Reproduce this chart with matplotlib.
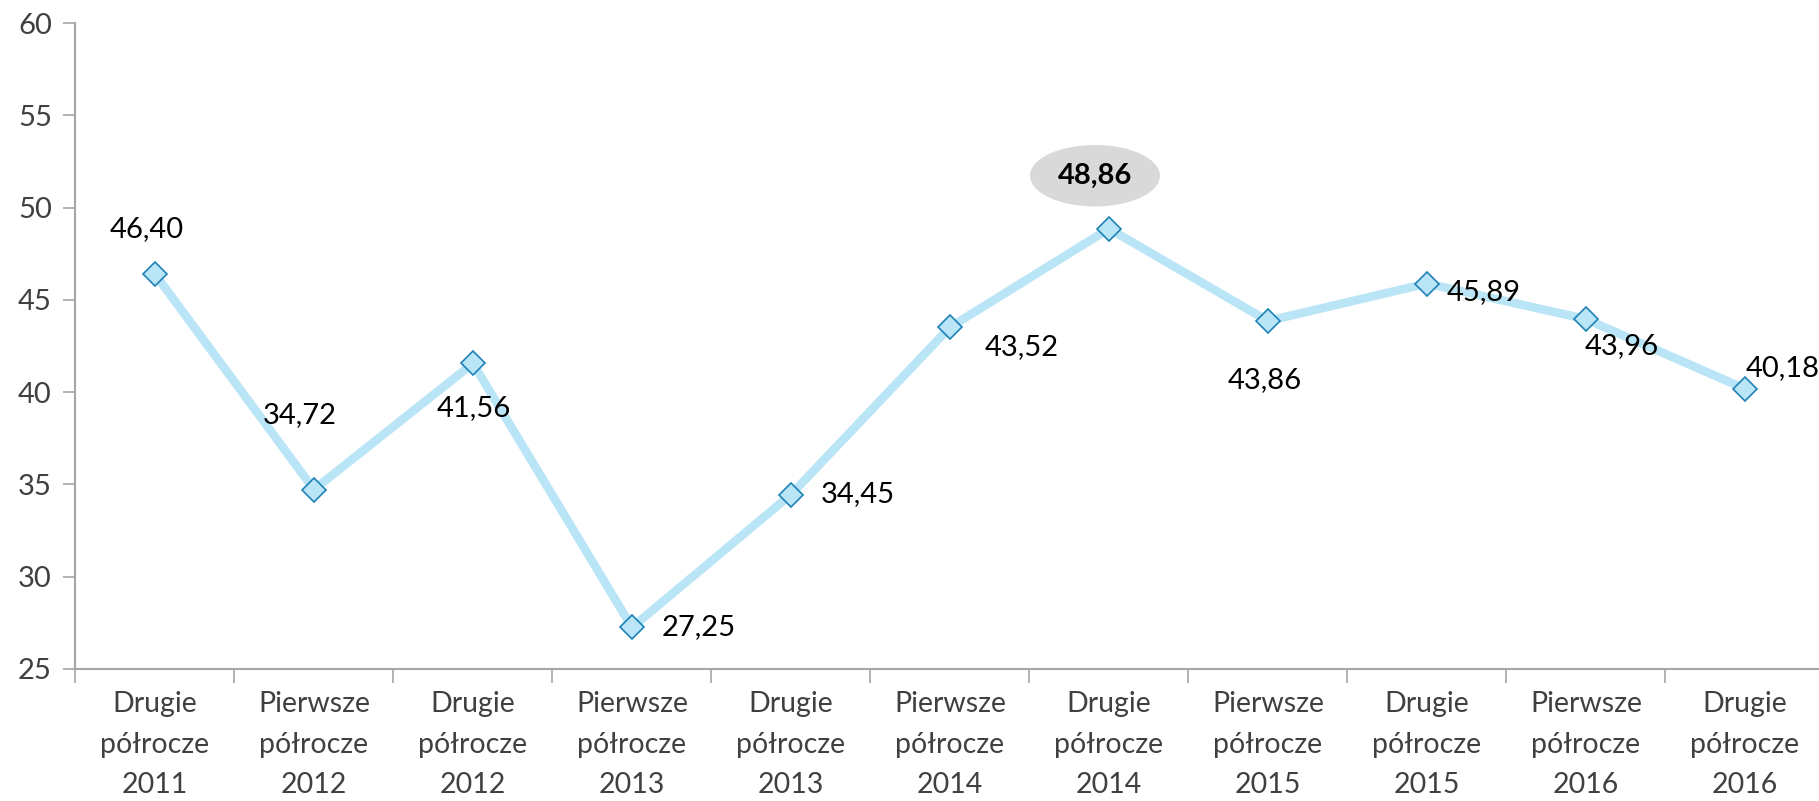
import matplotlib
matplotlib.use("Agg")
from matplotlib import pyplot as plt

# data
categories = ["Drugie\npółrocze\n2011", "Pierwsze\npółrocze\n2012", "Drugie\npółrocze\n2012",
              "Pierwsze\npółrocze\n2013", "Drugie\npółrocze\n2013", "Pierwsze\npółrocze\n2014",
              "Drugie\npółrocze\n2014", "Pierwsze\npółrocze\n2015", "Drugie\npółrocze\n2015",
              "Pierwsze\npółrocze\n2016", "Drugie\npółrocze\n2016"]
values = [46.40, 34.72, 41.56, 27.25, 34.45, 43.52, 48.86, 43.86, 45.89, 43.96, 40.18]
labels = ["46,40", "34,72", "41,56", "27,25", "34,45", "43,52", "48,86", "43,86", "45,89", "43,96", "40,18"]
highlight = 6
y_ticks = [25, 30, 35, 40, 45, 50, 55, 60]

# label offsets in pixels (dx, dy), dy positive = up
offsets = [(-8, 45), (-14, 74), (1, -45), (67, 0), (67, 0), (72, -20),
           (-14, 53), (-3, -59), (57, -9), (36, -27), (38, 21)]

plt.rcParams['font.family'] = ['Lato', 'DejaVu Sans']

fig = plt.figure(figsize=(18.19, 8.01), dpi=100)
ax = fig.add_axes([0.0415, 0.165, 1.003 - 0.0415, 0.971 - 0.165])

x = list(range(len(values)))
ax.plot(x, values, color="#B9E5F7", lw=6.2, solid_joinstyle="miter", zorder=2)
ax.plot(x, values, ls="none", marker="D", ms=12.5, mfc="#B9E5F7", mec="#1D82B5", mew=1.2, zorder=3)

for i, (v, lab) in enumerate(zip(values, labels)):
    dx, dy = offsets[i]
    if i == highlight:
        ax.annotate(lab, (i, v), xytext=(dx, dy), textcoords="offset pixels",
                    ha="center", va="center", fontsize=21, fontweight="bold", color="black",
                    bbox=dict(boxstyle="ellipse,pad=0.3", fc="#D9D9D9", ec="none"), zorder=4)
    else:
        ax.annotate(lab, (i, v), xytext=(dx, dy), textcoords="offset pixels",
                    ha="center", va="center", fontsize=21, color="black", zorder=4)

ax.set_xlim(-0.5, len(values) - 0.5)
ax.set_ylim(25, 60)
ax.set_yticks(y_ticks)
ax.set_yticklabels([str(t) for t in y_ticks], fontsize=21, color="#404040")

ax.set_xticks([i - 0.5 for i in range(len(values) + 1)])
ax.set_xticklabels([])
ax.set_xticks(x, minor=True)
ax.set_xticklabels(categories, minor=True, fontsize=20.5, color="#404040", linespacing=1.7)
ax.tick_params(axis="x", which="minor", length=0, pad=16)
ax.tick_params(axis="x", which="major", length=10, color="#A6A6A6", width=1.2)
ax.tick_params(axis="y", length=9, color="#A6A6A6", width=1.2, pad=8)

for s in ["top", "right"]:
    ax.spines[s].set_visible(False)
for s in ["left", "bottom"]:
    ax.spines[s].set_color("#A6A6A6")
    ax.spines[s].set_linewidth(1.5)

fig.savefig("out.png", dpi=100)
